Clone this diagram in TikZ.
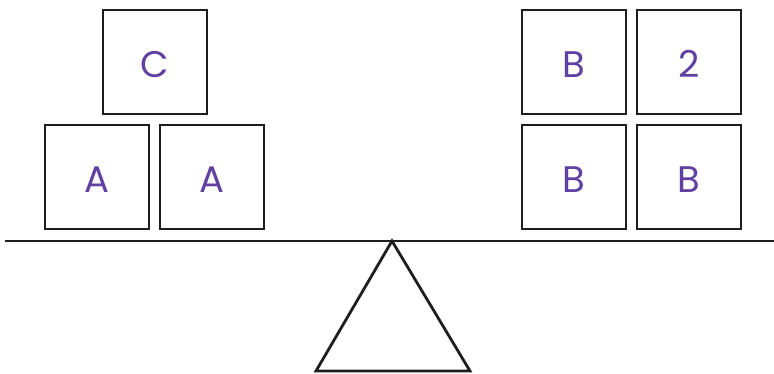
\documentclass[tikz,border=0pt]{standalone}
\usepackage{fontspec}
\setmainfont{Poppins}
\definecolor{letterpurple}{RGB}{96, 64, 160}
\definecolor{edgegray}{RGB}{30, 30, 30}

\begin{document}
\begin{tikzpicture}[x=1pt,y=-1pt,
  weightbox/.style={draw=edgegray, line width=2.8pt, minimum size=104pt, inner sep=0pt,
    text height=31pt, text depth=0pt,
    text=letterpurple, font=\fontsize{37}{40}\selectfont}]
\useasboundingbox (0,0) rectangle (774,374);

% Left pan
\node[weightbox] (leftA) at (97,177) {A};
\node[weightbox] (rightA) at (212,177) {A};
\node[weightbox] (topC) at (155,62) {C};

% Right pan
\node[weightbox] (topB) at (574,62) {B};
\node[weightbox] (topTwo) at (689,62) {2};
\node[weightbox] (lowB) at (574,177) {B};
\node[weightbox] (lowBB) at (689,177) {B};

% Beam and fulcrum
\coordinate (pivot) at (392,241);
\draw[edgegray, line width=2.8pt] (5,241) -- (774,241);
\draw[edgegray, line width=2.8pt, line join=miter] (pivot) -- (470,371) -- (316,371) -- cycle;
\end{tikzpicture}
\end{document}
